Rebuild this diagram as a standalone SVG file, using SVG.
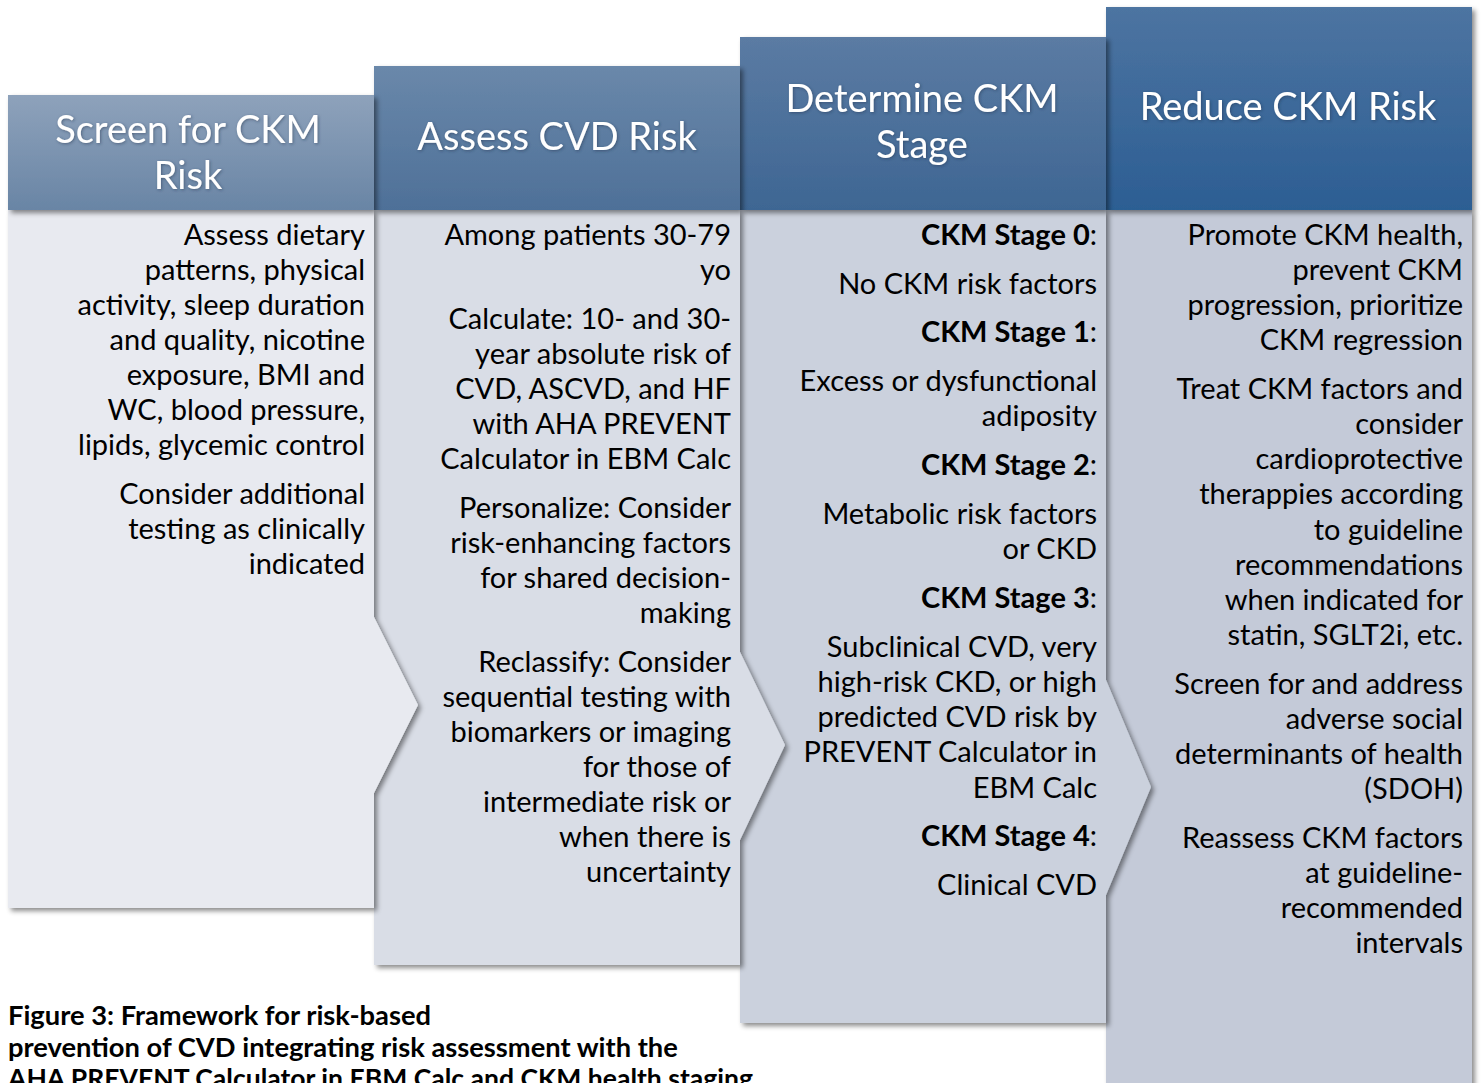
<svg xmlns="http://www.w3.org/2000/svg" width="1481" height="1083" viewBox="0 0 1481 1083">
  <style>
    .body text { font-family: Lato, "Liberation Sans", sans-serif; font-size: 29px; fill: #000; text-anchor: end; }
    .b { font-weight: bold; }
    .head { font-family: Lato, "Liberation Sans", sans-serif; font-size: 38px; fill: #fff; text-anchor: middle; }
    .cap { font-family: Lato, "Liberation Sans", sans-serif; font-size: 27.3px; font-weight: bold; fill: #000; }
  </style>
  <defs>
    <filter id="shadow" x="-5%" y="-5%" width="115%" height="115%">
      <feDropShadow dx="3" dy="3" stdDeviation="2.5" flood-color="#000" flood-opacity="0.45"/>
    </filter>
    <filter id="glow" x="-5%" y="-20%" width="110%" height="140%">
      <feDropShadow dx="1" dy="1" stdDeviation="1.5" flood-color="#1a2f4a" flood-opacity="0.5"/>
    </filter>
    <linearGradient id="h1" x1="0" y1="0" x2="0" y2="1">
      <stop offset="0" stop-color="#8ea2bb"/>
      <stop offset="1" stop-color="#6985a5"/>
    </linearGradient>
    <linearGradient id="h2" x1="0" y1="0" x2="0" y2="1">
      <stop offset="0" stop-color="#6a88aa"/>
      <stop offset="1" stop-color="#4e7098"/>
    </linearGradient>
    <linearGradient id="h3" x1="0" y1="0" x2="0" y2="1">
      <stop offset="0" stop-color="#5b7ba3"/>
      <stop offset="1" stop-color="#3e6693"/>
    </linearGradient>
    <linearGradient id="h4" x1="0" y1="0" x2="0" y2="1">
      <stop offset="0" stop-color="#4d74a1"/>
      <stop offset="1" stop-color="#2c5e93"/>
    </linearGradient>
  </defs>

  <rect width="1481" height="1083" fill="#fff"/>

  <!-- chevron pointers are part of each body outline -->
  <g id="connectors"/>

  <!-- column 4 -->
  <g id="col-reduce">
    <path d="M1106 210 H1472 V1100 H1106 Z" fill="#c4cad8" filter="url(#shadow)"/>
    <rect x="1106" y="7" width="366" height="203" fill="url(#h4)" filter="url(#shadow)"/>
    <text class="head" x="1288" y="120" filter="url(#glow)">Reduce CKM Risk</text>
    <g class="body">
      <text x="1463" y="245">Promote CKM health,</text>
      <text x="1463" y="280">prevent CKM</text>
      <text x="1463" y="315">progression, prioritize</text>
      <text x="1463" y="350">CKM regression</text>
      <text x="1463" y="399">Treat CKM factors and</text>
      <text x="1463" y="434">consider</text>
      <text x="1463" y="469">cardioprotective</text>
      <text x="1463" y="504">therappies according</text>
      <text x="1463" y="540">to guideline</text>
      <text x="1463" y="575">recommendations</text>
      <text x="1463" y="610">when indicated for</text>
      <text x="1463" y="645">statin, SGLT2i, etc.</text>
      <text x="1463" y="694">Screen for and address</text>
      <text x="1463" y="729">adverse social</text>
      <text x="1463" y="764">determinants of health</text>
      <text x="1463" y="799">(SDOH)</text>
      <text x="1463" y="848">Reassess CKM factors</text>
      <text x="1463" y="883">at guideline-</text>
      <text x="1463" y="918">recommended</text>
      <text x="1463" y="953">intervals</text>
    </g>
  </g>

  <!-- column 3 -->
  <g id="col-stage">
    <path d="M740 210 H1106 V680 L1151 787 L1106 895 V1023 H740 Z" fill="#cbd1dd" filter="url(#shadow)"/>
    <rect x="740" y="37" width="366" height="173" fill="url(#h3)" filter="url(#shadow)"/>
    <text class="head" x="922" y="112" filter="url(#glow)">Determine CKM</text>
    <text class="head" x="922" y="158" filter="url(#glow)">Stage</text>
    <g class="body">
      <text x="1097" y="245"><tspan class="b">CKM Stage 0</tspan>:</text>
      <text x="1097" y="294">No CKM risk factors</text>
      <text x="1097" y="342"><tspan class="b">CKM Stage 1</tspan>:</text>
      <text x="1097" y="391">Excess or dysfunctional</text>
      <text x="1097" y="426">adiposity</text>
      <text x="1097" y="475"><tspan class="b">CKM Stage 2</tspan>:</text>
      <text x="1097" y="524">Metabolic risk factors</text>
      <text x="1097" y="559">or CKD</text>
      <text x="1097" y="608"><tspan class="b">CKM Stage 3</tspan>:</text>
      <text x="1097" y="657">Subclinical CVD, very</text>
      <text x="1097" y="692">high-risk CKD, or high</text>
      <text x="1097" y="727">predicted CVD risk by</text>
      <text x="1097" y="762">PREVENT Calculator in</text>
      <text x="1097" y="798">EBM Calc</text>
      <text x="1097" y="846"><tspan class="b">CKM Stage 4</tspan>:</text>
      <text x="1097" y="895">Clinical CVD</text>
    </g>
  </g>

  <!-- column 2 -->
  <g id="col-assess">
    <path d="M374 210 H740 V652 L785 745 L740 840 V965 H374 Z" fill="#d9dde6" filter="url(#shadow)"/>
    <rect x="374" y="66" width="366" height="144" fill="url(#h2)" filter="url(#shadow)"/>
    <text class="head" x="557" y="150" filter="url(#glow)">Assess CVD Risk</text>
    <g class="body">
      <text x="731" y="245">Among patients 30-79</text>
      <text x="731" y="280">yo</text>
      <text x="731" y="329">Calculate: 10- and 30-</text>
      <text x="731" y="364">year absolute risk of</text>
      <text x="731" y="399">CVD, ASCVD, and HF</text>
      <text x="731" y="434">with AHA PREVENT</text>
      <text x="731" y="469">Calculator in EBM Calc</text>
      <text x="731" y="518">Personalize: Consider</text>
      <text x="731" y="553">risk-enhancing factors</text>
      <text x="731" y="588">for shared decision-</text>
      <text x="731" y="623">making</text>
      <text x="731" y="672">Reclassify: Consider</text>
      <text x="731" y="707">sequential testing with</text>
      <text x="731" y="742">biomarkers or imaging</text>
      <text x="731" y="777">for those of</text>
      <text x="731" y="812">intermediate risk or</text>
      <text x="731" y="847">when there is</text>
      <text x="731" y="882">uncertainty</text>
    </g>
  </g>

  <!-- column 1 -->
  <g id="col-screen">
    <path d="M8 210 H374 V617 L418 705 L374 793 V908 H8 Z" fill="#e8eaf0" filter="url(#shadow)"/>
    <rect x="8" y="95" width="366" height="115" fill="url(#h1)" filter="url(#shadow)"/>
    <text class="head" x="188" y="143" filter="url(#glow)">Screen for CKM</text>
    <text class="head" x="188" y="189" filter="url(#glow)">Risk</text>
    <g class="body">
      <text x="365" y="245">Assess dietary</text>
      <text x="365" y="280">patterns, physical</text>
      <text x="365" y="315">activity, sleep duration</text>
      <text x="365" y="350">and quality, nicotine</text>
      <text x="365" y="385">exposure, BMI and</text>
      <text x="365" y="420">WC, blood pressure,</text>
      <text x="365" y="455">lipids, glycemic control</text>
      <text x="365" y="504">Consider additional</text>
      <text x="365" y="539">testing as clinically</text>
      <text x="365" y="574">indicated</text>
    </g>
  </g>

  <!-- caption -->
  <g id="caption">
    <text class="cap" x="8" y="1025">Figure 3: Framework for risk-based</text>
    <text class="cap" x="8" y="1057">prevention of CVD integrating risk assessment with the</text>
    <text class="cap" x="8" y="1088" textLength="745" lengthAdjust="spacingAndGlyphs">AHA PREVENT Calculator in EBM Calc and CKM health staging</text>
  </g>
</svg>
